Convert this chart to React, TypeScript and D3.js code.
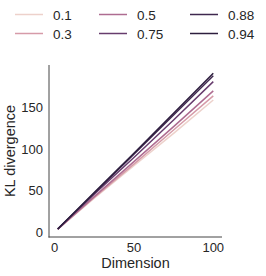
import React from 'react';
import * as d3 from 'd3';

// Data
const dimensions = [2, 25, 50, 75, 100];
const rhoLabels = ['0.1', '0.3', '0.5', '0.75', '0.88', '0.94'];
const rhoValues = [0.1, 0.3, 0.5, 0.75, 0.88, 0.94];
const kl01 = [4, 41, 80, 119, 159];
const kl03 = [4, 42, 82, 123, 164];
const kl05 = [4, 43, 85, 127, 170];
const kl075 = [4, 46, 90, 135, 181];
const kl088 = [4, 47, 94, 141, 188];
const kl094 = [4, 48, 95, 143, 191];
const xTicks = [0, 50, 100];
const yTicks = [0, 50, 100, 150];

const seriesValues = [kl01, kl03, kl05, kl075, kl088, kl094];

// seaborn's default cubehelix palette for numeric hue
const cubehelix = (x: number) => {
  const gamma = 1, s = 0, r = 0.4, h = 0.8;
  const xg = Math.pow(x, gamma);
  const a = (h * xg * (1 - xg)) / 2;
  const phi = 2 * Math.PI * (s / 3 + r * x);
  const ch = (p0: number, p1: number) =>
    Math.max(0, Math.min(1, xg + a * (p0 * Math.cos(phi) + p1 * Math.sin(phi))));
  return d3.rgb(ch(-0.14861, 1.78277) * 255, ch(-0.29227, -0.90649) * 255, ch(1.97294, 0) * 255).formatHex();
};
const hueNorm = d3.scaleLinear().domain([0.1, 0.94]).range([0.85, 0.15]);
const colorOf = (rho: number) => cubehelix(hueNorm(rho));

const FONT = '"Liberation Sans", Arial, sans-serif';
const TEXT = '#262626';

const App: React.FC = () => {
  const x = d3.scaleLinear().domain([-3.5, 105.5]).range([49, 222]);
  const y = d3.scaleLinear().domain([-5.5, 201]).range([237, 65]);

  const line = d3
    .line<number>()
    .x((_, i) => x(dimensions[i]))
    .y((d) => y(d));

  const legendCols = [15, 99, 190];
  const legendRows = [14.5, 33.5];

  return (
    <div style={{ position: 'absolute', left: 0, top: 0 }}>
      <svg width={266} height={276} style={{ display: 'block', background: '#fff' }}>
        {/* legend */}
        {rhoLabels.map((lab, i) => {
          const cx = legendCols[Math.floor(i / 2)];
          const cy = legendRows[i % 2];
          return (
            <g key={lab}>
              <line x1={cx} x2={cx + 28} y1={cy} y2={cy} stroke={colorOf(rhoValues[i])} strokeWidth={1.5} />
              <text x={cx + 38} y={cy + 5} fontFamily={FONT} fontSize={13.5} fill={TEXT}>
                {lab}
              </text>
            </g>
          );
        })}

        {/* series */}
        {seriesValues.map((vals, i) => (
          <path
            key={rhoLabels[i]}
            d={line(vals) || ''}
            fill="none"
            stroke={colorOf(rhoValues[i])}
            strokeWidth={1.5}
          />
        ))}

        {/* spines */}
        <line x1={49} x2={49} y1={65} y2={237.5} stroke="#444" strokeWidth={1} />
        <line x1={48.5} x2={222} y1={237} y2={237} stroke="#444" strokeWidth={1} />

        {/* tick labels */}
        {xTicks.map((t) => (
          <text key={t} x={x(t)} y={252} textAnchor="middle" fontFamily={FONT} fontSize={13} fill={TEXT}>
            {t}
          </text>
        ))}
        {yTicks.map((t) => (
          <text key={t} x={43} y={y(t) + 4.7} textAnchor="end" fontFamily={FONT} fontSize={13} fill={TEXT}>
            {t}
          </text>
        ))}

        {/* axis labels */}
        <text x={135.5} y={268} textAnchor="middle" fontFamily={FONT} fontSize={14.5} fill={TEXT}>
          Dimension
        </text>
        <text
          transform={`translate(15,151) rotate(-90)`}
          textAnchor="middle"
          fontFamily={FONT}
          fontSize={14.5}
          fill={TEXT}
        >
          KL divergence
        </text>
      </svg>
    </div>
  );
};

export default App;
